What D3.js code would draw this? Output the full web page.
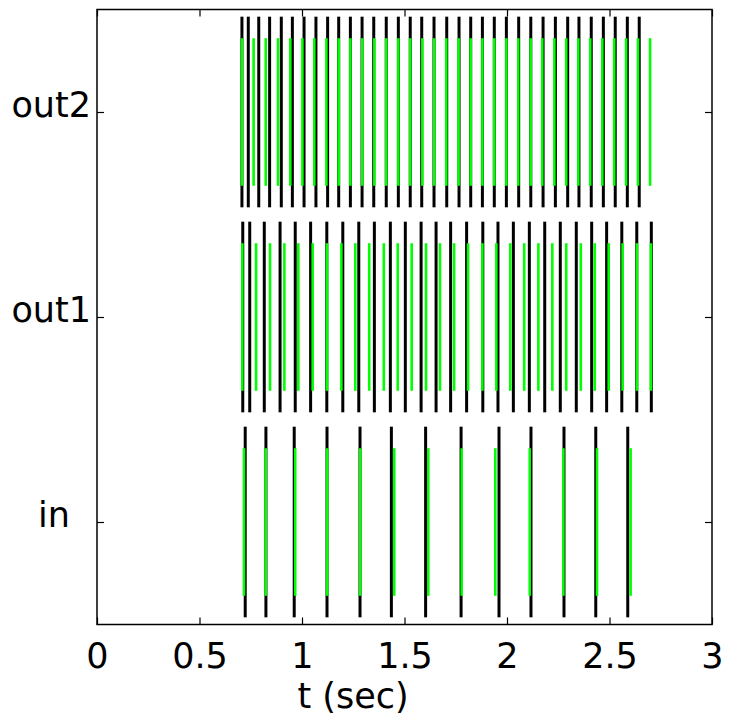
<!DOCTYPE html>
<html>
<head>
<meta charset="utf-8">
<script src="https://cdn.jsdelivr.net/npm/d3@7"></script>
<style>
  html, body { margin: 0; padding: 0; background: #fff; }
  svg { display: block; }
  text { font-family: "DejaVu Sans", sans-serif; }
</style>
</head>
<body>
<svg id="chart" width="730" height="715"></svg>
<script>
// Channel names, bottom to top, and the row each one sits on
const channels = ["in", "out1", "out2"];
const rowIndex = [0, 1, 2];

// x-axis tick values and their labels
const xTickValues = [0, 0.5, 1, 1.5, 2, 2.5, 3];
const xTickLabels = ["0", "0.5", "1", "1.5", "2", "2.5", "3"];

// Spike times (sec), first recording (black)
const spikesInA = [0.723, 0.824, 0.962, 1.122, 1.283, 1.436, 1.603, 1.776, 1.961, 2.117, 2.278, 2.433, 2.589];
const spikesOut1A = [0.711, 0.745, 0.816, 0.893, 0.967, 1.042, 1.121, 1.199, 1.277, 1.353, 1.431, 1.504,
  1.581, 1.654, 1.725, 1.803, 1.882, 1.956, 2.031, 2.109, 2.184, 2.260, 2.338, 2.413, 2.486, 2.560,
  2.633, 2.704];
const spikesOut2A = [0.707, 0.738, 0.789, 0.842, 0.899, 0.953, 1.010, 1.068, 1.125, 1.179, 1.236, 1.293,
  1.350, 1.411, 1.470, 1.528, 1.584, 1.644, 1.706, 1.766, 1.823, 1.880, 1.938, 1.997, 2.057, 2.116,
  2.176, 2.236, 2.296, 2.351, 2.411, 2.470, 2.528, 2.587, 2.645];

// Spike times (sec), second recording (green)
const spikesInB = [0.717, 0.823, 0.967, 1.123, 1.284, 1.450, 1.616, 1.779, 1.943, 2.111, 2.275, 2.439, 2.603];
const spikesOut1B = [0.709, 0.776, 0.844, 0.914, 0.982, 1.052, 1.122, 1.192, 1.260, 1.328, 1.399, 1.467,
  1.535, 1.605, 1.673, 1.742, 1.810, 1.880, 1.948, 2.016, 2.084, 2.153, 2.221, 2.289, 2.360, 2.428,
  2.496, 2.564, 2.634, 2.702];
const spikesOut2B = [0.707, 0.764, 0.823, 0.883, 0.943, 1.002, 1.060, 1.119, 1.179, 1.236, 1.294, 1.353,
  1.411, 1.470, 1.528, 1.587, 1.645, 1.704, 1.764, 1.823, 1.880, 1.938, 1.997, 2.055, 2.116, 2.172,
  2.231, 2.289, 2.348, 2.406, 2.465, 2.523, 2.581, 2.639, 2.698];

const groupA = [spikesInA, spikesOut1A, spikesOut2A];
const groupB = [spikesInB, spikesOut1B, spikesOut2B];

// Plot area
const plotLeft = 97, plotRight = 712, plotTop = 9.5, plotBottom = 624.5;
const svg = d3.select("#chart");

const x = d3.scaleLinear().domain([0, 3]).range([plotLeft, plotRight]);
const y = d3.scaleLinear().domain([-0.5, 2.5]).range([plotBottom, plotTop]);

// Draw one raster group: a vertical tick per spike, centred on its row
function drawRaster(groups, color, lineLength, width) {
  const g = svg.append("g");
  groups.forEach((times, i) => {
    const row = rowIndex[i];
    g.selectAll(null)
      .data(times)
      .enter()
      .append("line")
      .attr("x1", d => x(d))
      .attr("x2", d => x(d))
      .attr("y1", y(row - lineLength / 2))
      .attr("y2", y(row + lineLength / 2))
      .attr("stroke", color)
      .attr("stroke-width", width);
  });
}

drawRaster(groupA, "#000000", 0.93, 3);
drawRaster(groupB, "#00ff00", 0.72, 2.6);

// Axes: ticks point inward on all four sides
const fontSize = 35;

const xAxis = d3.axisBottom(x)
  .tickValues(xTickValues)
  .tickFormat((d, i) => xTickLabels[i])
  .tickSizeInner(-7).tickSizeOuter(0).tickPadding(18.6);
const gx = svg.append("g").attr("transform", `translate(0,${plotBottom})`).call(xAxis);

const xAxisTop = d3.axisTop(x).tickValues(xTickValues).tickFormat("")
  .tickSizeInner(-7).tickSizeOuter(0);
const gxt = svg.append("g").attr("transform", `translate(0,${plotTop})`).call(xAxisTop);

const yAxis = d3.axisLeft(y)
  .tickValues(rowIndex)
  .tickFormat((d, i) => channels[i])
  .tickSizeInner(-7).tickSizeOuter(0).tickPadding(6);
const gy = svg.append("g").attr("transform", `translate(${plotLeft},0)`).call(yAxis);

const yAxisRight = d3.axisRight(y).tickValues(rowIndex).tickFormat("")
  .tickSizeInner(-7).tickSizeOuter(0);
const gyr = svg.append("g").attr("transform", `translate(${plotRight},0)`).call(yAxisRight);

[gx, gxt, gy, gyr].forEach(g => {
  g.select(".domain").remove();
  g.selectAll(".tick line").attr("stroke", "#000").attr("stroke-width", 1.2);
  g.selectAll(".tick text")
    .attr("fill", "#000")
    .style("font-family", "'DejaVu Sans', sans-serif")
    .style("font-size", fontSize + "px");
});

gy.selectAll(".tick text").attr("dy", "0.14em");
gy.selectAll(".tick text").filter(d => d === 0).attr("dx", -21);

// Frame
svg.append("rect")
  .attr("x", plotLeft).attr("y", plotTop)
  .attr("width", plotRight - plotLeft).attr("height", plotBottom - plotTop)
  .attr("fill", "none").attr("stroke", "#000").attr("stroke-width", 1.5);

// Axis title
svg.append("text")
  .attr("x", 353).attr("y", 708)
  .attr("text-anchor", "middle")
  .style("font-size", fontSize + "px")
  .attr("fill", "#000")
  .text("t (sec)");
</script>
</body>
</html>
